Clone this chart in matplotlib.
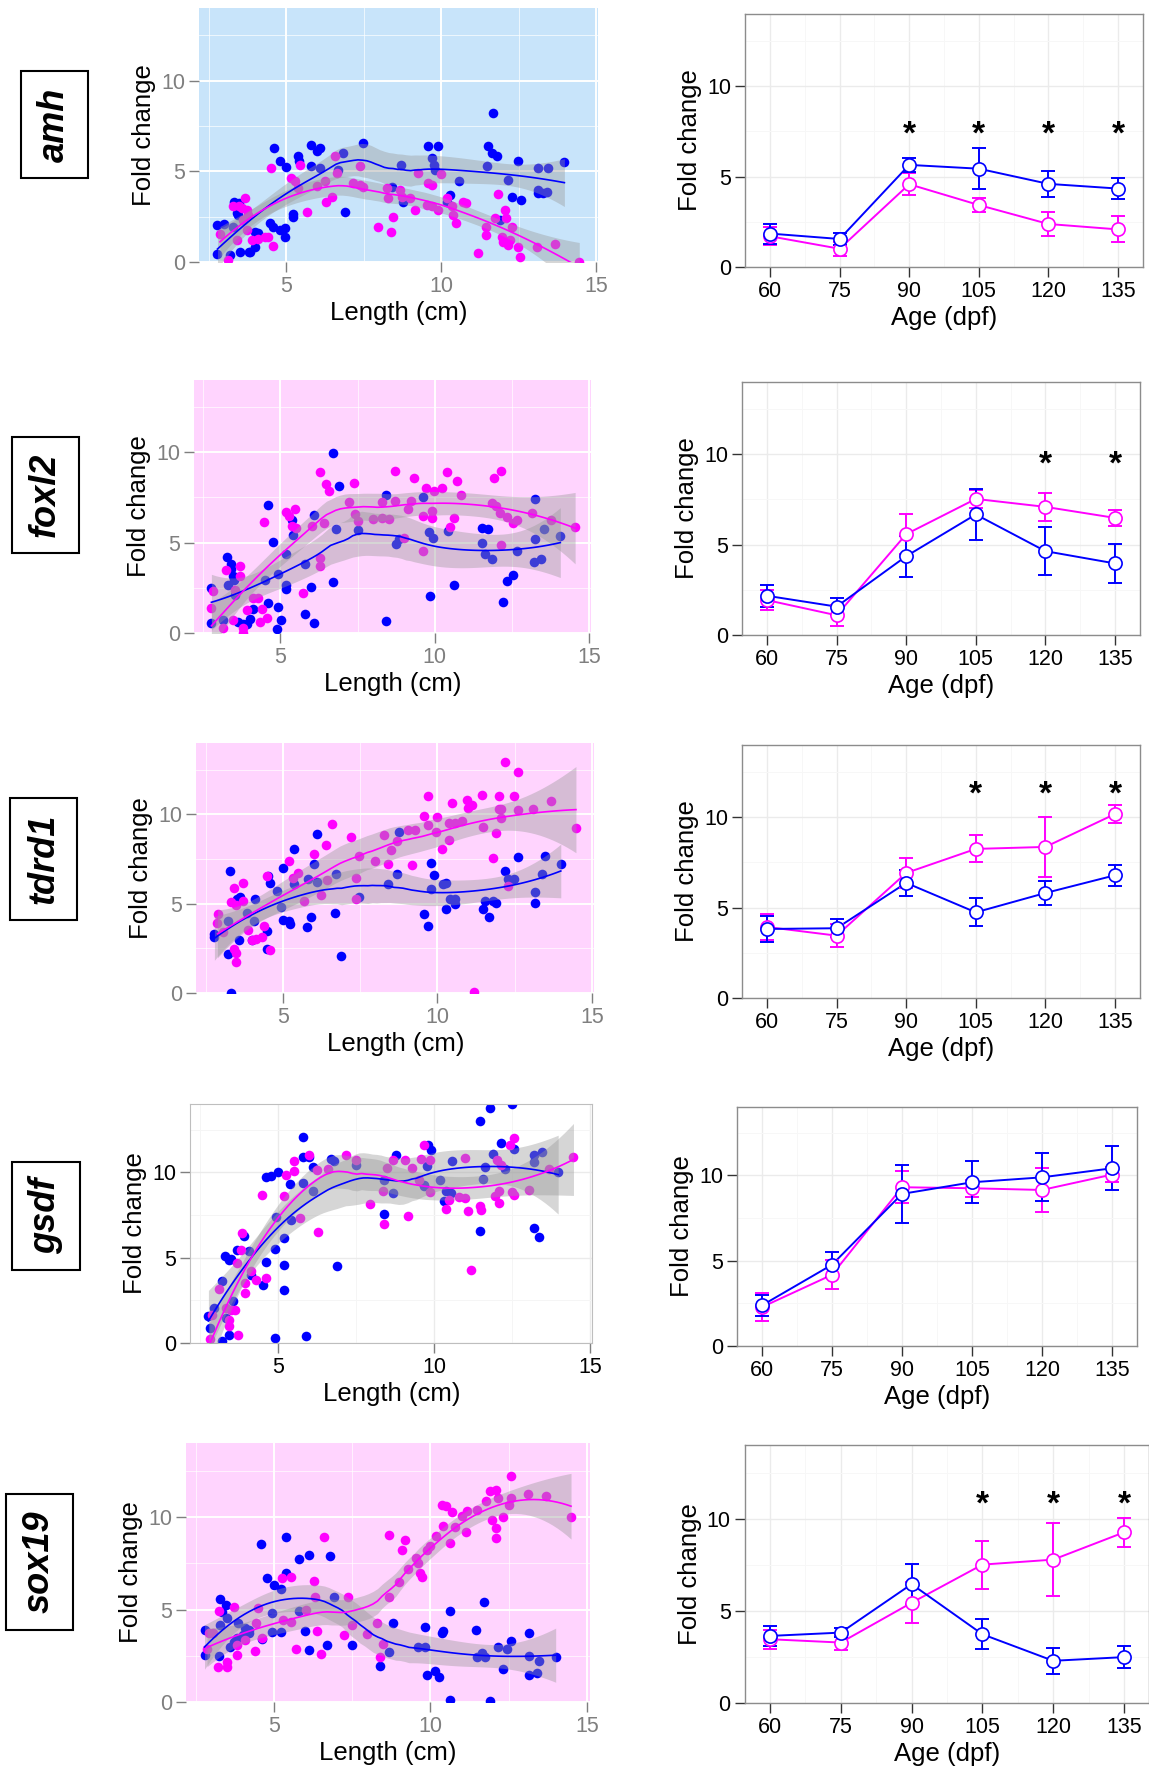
import numpy as np
import matplotlib
matplotlib.use('Agg')
import matplotlib.pyplot as plt
from matplotlib import transforms

plt.rcParams['font.family'] = ['Liberation Sans', 'DejaVu Sans']

BLUE = '#0000FF'
PINK = '#FF00FF'

# ---- scatter data: (length cm, fold change) ----
amh_blue = [(2.79, 2.03), (3.0, 2.10), (2.79, 0.44), (3.19, 0.39), (3.52, 0.57), (3.81, 0.57), (3.30, 1.95),
            (3.32, 3.28), (3.49, 3.24), (3.41, 2.69), (3.46, 2.6), (4.0, 1.68), (4.11, 1.58), (4.0, 0.85),
            (3.84, 0.57), (4.05, 1.4), (4.48, 2.17), (4.59, 1.95), (4.81, 1.77), (4.97, 1.4), (4.97, 1.86),
            (4.61, 6.28), (4.81, 5.54), (5.0, 5.21), (5.22, 2.5), (5.24, 2.65), (5.40, 5.86), (5.42, 5.54),
            (5.80, 6.46), (5.99, 6.10), (6.10, 6.28), (5.80, 5.27), (6.10, 5.17), (6.69, 5.08), (6.83, 6.0),
            (6.89, 2.78), (7.49, 6.56), (8.41, 4.13), (8.70, 5.36), (8.78, 3.28), (9.59, 6.41), (9.91, 6.41),
            (9.70, 5.73), (9.77, 5.36), (9.81, 5.08), (10.18, 3.33), (10.29, 3.70), (10.59, 4.44), (11.53, 6.41),
            (11.63, 6.0), (11.80, 5.82), (11.49, 5.27), (11.69, 8.21), (11.90, 2.32), (12.17, 4.53), (12.28, 3.61),
            (12.49, 5.54), (12.57, 3.43), (13.14, 5.17), (13.46, 5.17), (13.14, 3.98), (13.30, 3.79),
            (13.41, 3.85), (13.14, 3.79), (13.98, 5.51)]
amh_pink = [(2.87, 1.55), (3.14, 0.11), (3.30, 3.06), (3.49, 3.09), (3.68, 3.52), (3.57, 2.96), (3.73, 2.87),
            (3.79, 2.6), (3.62, 2.32), (3.73, 1.77), (3.41, 1.2), (3.89, 1.2), (4.11, 1.25), (4.33, 1.36),
            (4.43, 1.4), (4.59, 0.88), (4.51, 5.17), (5.16, 4.62), (5.29, 4.44), (5.40, 4.07), (5.45, 5.36),
            (5.69, 2.78), (5.99, 4.2), (6.26, 4.44), (6.29, 3.33), (6.47, 3.61), (6.58, 5.86), (6.63, 4.90),
            (7.17, 4.38), (7.39, 4.25), (7.49, 4.13), (7.39, 5.27), (7.98, 1.92), (8.38, 1.68), (8.46, 2.5),
            (8.27, 4.07), (8.30, 3.52), (8.68, 3.98), (8.73, 3.61), (9.0, 3.52), (9.16, 2.87), (9.27, 4.90),
            (9.59, 4.38), (9.70, 4.25), (9.54, 3.15), (9.70, 3.06), (9.91, 2.87), (10.0, 4.86), (10.18, 3.52),
            (10.34, 3.06), (10.38, 2.6), (10.48, 2.17), (10.72, 3.33), (10.81, 3.24), (11.18, 0.52),
            (11.45, 1.95), (11.45, 1.49), (11.74, 2.41), (11.85, 3.74), (12.06, 2.87), (12.10, 2.41),
            (11.96, 1.4), (12.01, 1.12), (12.23, 1.22), (12.17, 0.94), (12.28, 1.92), (12.49, 0.85),
            (12.55, 0.29), (13.09, 0.85), (13.68, 0.99), (14.46, 0.02)]

foxl2_blue = [(2.76, 2.48), (2.76, 0.54), (3.14, 0.72), (3.27, 4.2), (3.38, 3.83), (3.41, 3.54), (3.47, 3.13),
              (3.49, 2.94), (3.30, 2.67), (3.52, 2.11), (3.63, 0.63), (3.77, 0.5), (3.92, 0.5), (4.01, 0.76),
              (4.10, 1.31), (4.58, 7.06), (4.50, 2.94), (4.58, 1.65), (4.77, 5.02), (4.93, 3.28), (4.93, 1.46),
              (5.01, 0.72), (4.88, 0.22), (5.18, 4.39), (5.37, 6.28), (5.40, 5.44), (5.18, 2.67), (5.18, 2.43),
              (5.80, 3.83), (5.80, 1.04), (5.99, 2.57), (6.10, 6.52), (6.10, 0.57), (6.70, 9.98), (6.91, 8.13),
              (6.70, 2.80), (6.80, 5.76), (7.51, 5.72), (8.41, 7.65), (8.41, 0.69), (8.74, 4.93), (8.83, 5.2),
              (9.61, 7.54), (9.80, 5.57), (9.93, 5.26), (9.83, 2.07), (10.64, 2.63), (10.42, 5.63), (11.53, 5.81),
              (11.73, 5.76), (11.53, 4.98), (11.64, 4.37), (11.86, 4.09), (12.22, 1.74), (12.33, 2.89),
              (12.54, 3.22), (12.65, 4.52), (13.25, 7.43), (13.25, 5.2), (13.23, 3.93), (13.45, 4.09),
              (13.55, 5.76), (14.07, 5.39)]
foxl2_pink = [(2.82, 2.30), (2.76, 1.37), (3.14, 0.26), (3.23, 3.50), (3.52, 2.39), (3.68, 3.69), (3.68, 3.13),
              (3.47, 0.72), (3.77, 0.26), (3.79, 0.0), (3.90, 1.28), (4.12, 1.93), (4.28, 1.93), (4.39, 1.31),
              (4.34, 0.63), (4.55, 0.81), (4.48, 6.13), (5.18, 6.69), (5.29, 6.46), (5.48, 6.87), (5.37, 5.91),
              (5.51, 5.81), (5.73, 2.2), (6.29, 8.93), (6.46, 8.22), (6.57, 7.85), (6.29, 3.69), (6.27, 4.15),
              (6.02, 5.91), (6.40, 6.06), (7.22, 7.24), (7.38, 8.31), (7.43, 6.59), (7.51, 6.19), (8.01, 6.31),
              (8.30, 7.24), (8.30, 6.37), (8.52, 6.31), (8.72, 8.96), (8.71, 7.30), (9.12, 6.87), (9.23, 7.33),
              (9.34, 8.59), (9.01, 5.26), (9.61, 6.46), (9.90, 6.37), (9.72, 8.0), (9.99, 7.85), (10.23, 8.0),
              (9.91, 6.74), (9.61, 4.52), (10.40, 8.91), (10.64, 6.37), (10.51, 5.87), (10.73, 8.41),
              (10.84, 7.61), (11.84, 7.2), (12.0, 7.02), (12.11, 6.65), (11.92, 8.59), (12.14, 8.96),
              (12.14, 4.89), (12.33, 6.43), (12.54, 6.09), (12.65, 6.28), (13.14, 6.65), (13.77, 6.28),
              (14.55, 5.87)]

tdrd1_blue = [(2.78, 3.32), (2.78, 3.14), (3.21, 2.21), (3.30, 6.83), (3.31, 0.0), (3.21, 4.06), (3.52, 5.26),
              (3.62, 5.39), (3.58, 2.95), (3.83, 4.46), (4.01, 2.95), (4.11, 5.26), (4.07, 4.06), (4.48, 3.47),
              (4.51, 6.55), (4.59, 6.14), (4.48, 2.49), (4.79, 5.72), (5.0, 7.01), (4.94, 4.80), (5.0, 4.11),
              (5.19, 4.06), (5.22, 3.87), (5.37, 8.06), (5.37, 6.09), (5.80, 6.40), (5.78, 3.69), (5.90, 4.28),
              (5.99, 7.20), (6.09, 8.89), (6.09, 6.24), (6.69, 4.46), (6.73, 6.64), (6.89, 2.07), (7.47, 5.35),
              (8.40, 6.09), (8.70, 6.64), (8.77, 8.99), (9.57, 4.43), (9.69, 3.78), (9.79, 7.29), (9.88, 6.61),
              (9.79, 5.81), (10.19, 6.09), (10.28, 6.18), (10.28, 4.70), (10.41, 5.26), (10.58, 5.26),
              (10.58, 4.98), (11.48, 4.70), (11.54, 5.17), (11.67, 4.28), (11.79, 5.17), (11.89, 5.02),
              (12.19, 6.86), (12.28, 6.40), (12.47, 6.40), (12.59, 7.60), (13.17, 5.02), (13.17, 5.63),
              (13.37, 6.68), (13.49, 7.69), (13.99, 7.20)]
tdrd1_pink = [(2.90, 4.43), (2.88, 3.91), (3.06, 3.41), (3.33, 5.07), (3.40, 5.90), (3.42, 2.49), (3.49, 2.25),
              (3.49, 1.72), (3.49, 4.94), (3.70, 6.18), (3.70, 5.17), (3.86, 3.51), (4.01, 2.95), (4.14, 3.04),
              (4.32, 3.14), (4.38, 3.78), (4.48, 6.55), (4.59, 2.40), (5.19, 7.38), (5.31, 6.46), (5.47, 6.73),
              (5.68, 5.17), (5.99, 7.79), (6.23, 5.50), (6.38, 8.27), (6.42, 6.31), (6.58, 9.45), (7.20, 8.76),
              (7.37, 5.26), (7.37, 6.42), (7.47, 7.66), (7.99, 7.42), (8.27, 8.86), (8.40, 7.20), (8.48, 8.03),
              (8.70, 8.49), (9.05, 9.13), (9.26, 9.13), (9.17, 7.16), (9.57, 9.93), (9.69, 11.03), (9.69, 9.41),
              (9.94, 9.04), (9.98, 9.87), (10.16, 8.08), (10.37, 8.58), (10.37, 9.50), (10.58, 9.50),
              (10.47, 10.65), (10.78, 9.63), (10.95, 10.79), (10.99, 10.37), (11.11, 10.55), (11.17, 0.04),
              (11.44, 11.11), (11.48, 9.32), (11.79, 7.56), (11.89, 8.95), (11.98, 11.03), (11.98, 10.30),
              (12.04, 9.78), (12.06, 10.30), (12.19, 12.95), (12.47, 11.03), (12.59, 12.40), (12.59, 10.24),
              (12.28, 6.0), (13.09, 10.30), (13.67, 10.76), (14.48, 9.26)]

gsdf_blue = [(2.77, 1.60), (2.81, 0.88), (2.95, 2.05), (3.20, 3.65), (3.20, 0.1), (3.30, 5.08), (3.44, 4.88),
             (3.50, 4.92), (3.32, 1.46), (3.44, 0.49), (3.57, 2.44), (3.69, 5.47), (3.91, 6.25), (4.12, 4.0),
             (4.06, 5.37), (4.52, 3.42), (4.61, 9.73), (4.79, 9.77), (5.01, 10.0), (4.61, 4.73), (4.89, 5.51),
             (4.89, 0.29), (4.94, 7.38), (5.20, 6.15), (5.20, 4.59), (5.20, 3.13), (5.40, 9.34), (5.43, 7.23),
             (5.81, 12.07), (5.81, 10.90), (5.81, 9.38), (5.89, 0.43), (5.99, 10.90), (6.12, 10.31),
             (6.12, 8.89), (6.69, 10.78), (6.88, 4.53), (6.81, 10.64), (7.49, 10.45), (8.41, 9.57), (8.41, 7.58),
             (8.69, 8.79), (8.77, 11.04), (9.67, 9.28), (9.69, 9.18), (9.82, 11.62), (9.91, 11.33),
             (9.79, 10.39), (10.18, 9.57), (10.31, 8.30), (10.40, 8.89), (10.55, 8.79), (10.59, 10.64),
             (11.47, 13.03), (11.78, 13.77), (11.47, 6.54), (11.56, 9.61), (11.65, 10.31), (11.90, 11.09),
             (12.14, 11.72), (12.27, 10.20), (12.49, 13.98), (12.57, 11.37), (13.19, 11.04), (13.19, 10.59),
             (13.19, 6.74), (13.37, 6.21), (13.47, 11.17), (13.98, 10.0)]
gsdf_pink = [(2.81, 0.23), (2.89, 1.66), (3.11, 3.16), (3.32, 2.05), (3.44, 1.37), (3.42, 0.98), (3.50, 1.91),
             (3.63, 1.95), (3.71, 0.49), (3.69, 4.69), (3.81, 5.43), (3.84, 6.45), (3.93, 2.93), (3.93, 3.52),
             (4.12, 4.20), (4.28, 3.67), (4.49, 8.69), (4.61, 3.81), (5.20, 8.59), (5.26, 9.86), (5.50, 10.06),
             (5.50, 10.64), (5.71, 7.32), (5.99, 11.04), (6.29, 6.50), (6.26, 10.16), (6.61, 10.20),
             (7.18, 11.04), (7.49, 10.74), (7.95, 8.16), (8.38, 8.89), (8.41, 6.99), (8.49, 10.25), (8.69, 10.74),
             (9.08, 10.74), (9.18, 7.46), (9.30, 10.25), (9.51, 9.57), (9.57, 10.78), (9.69, 11.62), (9.88, 10.74),
             (9.88, 8.83), (10.37, 7.85), (10.49, 8.40), (10.80, 8.55), (10.98, 10.84), (10.98, 8.50),
             (11.10, 7.71), (11.19, 4.26), (11.47, 8.05), (11.51, 7.77), (11.96, 8.59), (12.08, 8.89),
             (12.08, 8.20), (12.02, 10.74), (12.14, 10.45), (12.45, 11.62), (12.57, 12.01), (12.49, 8.83),
             (12.57, 8.69), (13.06, 8.98), (13.68, 10.20), (14.47, 10.90)]

sox19_blue = [(2.78, 3.89), (2.78, 2.53), (3.23, 2.48), (3.29, 5.55), (3.47, 5.24), (3.29, 4.16), (3.35, 4.88),
              (3.50, 4.52), (3.59, 2.98), (3.71, 3.25), (3.83, 3.44), (4.02, 3.62), (4.20, 3.71), (3.86, 4.29),
              (4.08, 3.98), (4.20, 3.89), (4.60, 8.55), (4.62, 3.38), (4.78, 6.69), (4.99, 6.33), (5.21, 6.09),
              (4.93, 4.79), (4.93, 3.80), (5.21, 3.80), (5.39, 8.92), (5.39, 7.0), (5.80, 7.72), (6.12, 7.96),
              (5.80, 4.94), (6.0, 3.83), (6.12, 2.80), (6.69, 3.07), (6.78, 7.90), (6.91, 5.66), (7.48, 3.07),
              (8.39, 1.93), (8.69, 2.71), (8.79, 4.25), (9.60, 2.95), (9.81, 4.03), (9.84, 2.95), (9.90, 1.45),
              (10.15, 1.68), (10.27, 1.36), (10.36, 3.74), (10.41, 3.85), (10.61, 4.94), (10.61, 0.13),
              (11.46, 3.89), (11.48, 2.44), (11.63, 2.66), (11.75, 2.44), (11.70, 5.42), (11.91, 0.04),
              (12.15, 2.95), (12.31, 1.81), (12.45, 2.84), (12.57, 3.29), (13.16, 3.71), (13.16, 2.48),
              (13.16, 1.48), (13.40, 1.59), (13.48, 2.21), (14.0, 2.44)]
sox19_pink = [(2.86, 2.89), (2.92, 3.74), (3.04, 3.71), (3.20, 1.90), (3.25, 4.94), (3.50, 1.90), (3.50, 2.17),
              (3.71, 5.12), (3.81, 2.53), (3.83, 3.07), (4.08, 3.35), (4.38, 2.77), (4.42, 4.25), (4.50, 5.06),
              (4.62, 3.44), (5.27, 6.69), (5.53, 6.78), (5.29, 4.43), (5.53, 4.34), (5.69, 2.84), (6.02, 4.97),
              (6.29, 6.56), (6.32, 5.70), (6.38, 3.85), (6.50, 2.62), (6.60, 8.92), (7.38, 5.70), (7.23, 3.62),
              (7.48, 4.16), (7.96, 3.67), (8.30, 4.25), (8.39, 2.44), (8.48, 3.13), (8.69, 5.66), (8.69, 9.04),
              (8.99, 6.51), (9.08, 8.23), (9.20, 8.77), (9.27, 7.18), (9.54, 7.78), (9.60, 7.54), (9.68, 6.96),
              (9.72, 6.78), (9.88, 8.23), (10.0, 8.44), (10.17, 8.95), (10.36, 10.67), (10.51, 10.58),
              (10.39, 9.53), (10.61, 8.59), (10.69, 10.25), (10.78, 9.46), (11.0, 10.07), (11.18, 10.31),
              (11.12, 9.17), (11.48, 10.40), (11.78, 10.85), (11.91, 11.39), (12.09, 11.48), (11.97, 9.86),
              (12.09, 9.40), (12.09, 8.86), (12.15, 11.03), (12.31, 10.0), (12.51, 10.67), (12.57, 11.03),
              (12.57, 12.21), (13.10, 11.27), (13.69, 11.12), (14.49, 10.0)]

# ---- time course data: mean and error bar half-width ----
age = [60, 75, 90, 105, 120, 135]
amh_blue_mean = [1.85, 1.55, 5.65, 5.44, 4.60, 4.34]
amh_blue_err = [0.55, 0.35, 0.37, 1.14, 0.72, 0.59]
amh_pink_mean = [1.70, 1.01, 4.58, 3.43, 2.38, 2.08]
amh_pink_err = [0.50, 0.40, 0.60, 0.40, 0.65, 0.72]
foxl2_blue_mean = [2.17, 1.57, 4.36, 6.67, 4.64, 3.96]
foxl2_blue_err = [0.60, 0.45, 1.14, 1.40, 1.33, 1.10]
foxl2_pink_mean = [1.93, 1.09, 5.58, 7.53, 7.09, 6.48]
foxl2_pink_err = [0.55, 0.57, 1.10, 0.50, 0.76, 0.45]
tdrd1_blue_mean = [3.82, 3.86, 6.37, 4.74, 5.81, 6.79]
tdrd1_blue_err = [0.70, 0.50, 0.70, 0.78, 0.69, 0.58]
tdrd1_pink_mean = [3.93, 3.45, 6.92, 8.25, 8.36, 10.18]
tdrd1_pink_err = [0.72, 0.65, 0.83, 0.75, 1.65, 0.52]
gsdf_blue_mean = [2.38, 4.76, 8.91, 9.59, 9.88, 10.41]
gsdf_blue_err = [0.60, 0.74, 1.70, 1.22, 1.40, 1.30]
gsdf_pink_mean = [2.28, 4.17, 9.30, 9.24, 9.14, 10.04]
gsdf_pink_err = [0.84, 0.86, 0.95, 0.50, 1.30, 0.46]
sox19_blue_mean = [3.64, 3.82, 6.45, 3.73, 2.29, 2.49]
sox19_blue_err = [0.55, 0.25, 1.10, 0.81, 0.70, 0.60]
sox19_pink_mean = [3.46, 3.28, 5.44, 7.51, 7.78, 9.26]
sox19_pink_err = [0.52, 0.43, 1.10, 1.30, 2.00, 0.80]

# significance stars: ages and height
amh_stars, amh_star_y = [90, 105, 120, 135], 7.9
foxl2_stars, foxl2_star_y = [120, 135], 10.0
tdrd1_stars, tdrd1_star_y = [105, 120, 135], 11.85
gsdf_stars, gsdf_star_y = [], 0
sox19_stars, sox19_star_y = [105, 120, 135], 11.35

genes = ['amh', 'foxl2', 'tdrd1', 'gsdf', 'sox19']
panel_bg = {'amh': '#C8E4FA', 'foxl2': '#FFD4FE', 'tdrd1': '#FFD4FE', 'gsdf': 'white', 'sox19': '#FFD4FE'}

# layout in pixels: left panel (x at len 5, x at len 15, top, y0), right panel (x at 60, x at 135, top, y0), label box centre
W, H = 1149, 1772
left_px = {'amh': (286, 596, 8, 262), 'foxl2': (280.5, 589, 380, 633), 'tdrd1': (283, 592, 743, 993),
           'gsdf': (278, 590, 1104, 1343), 'sox19': (274, 587, 1443, 1702)}
right_px = {'amh': (770, 1118, 14, 267), 'foxl2': (767, 1115, 382, 635), 'tdrd1': (767, 1115, 745, 998),
            'gsdf': (762, 1112, 1107, 1346), 'sox19': (770, 1124, 1445, 1703)}
box_px = {'amh': (54.5, 124.5), 'foxl2': (45.5, 495), 'tdrd1': (43.5, 859), 'gsdf': (46, 1216), 'sox19': (39.5, 1562)}

XL = (2.19, 15.08)
XR = (54.6, 140.4)
YL = (0, 14)


def loess(x, y, span=0.75, npts=80):
    x = np.asarray(x, float)
    y = np.asarray(y, float)
    n = len(x)
    q = int(np.floor(n * span))

    def lvec(x0):
        d = np.abs(x - x0)
        h = np.sort(d)[q - 1]
        w = (1 - np.clip(d / h, 0, 1) ** 3) ** 3
        X = np.vstack([np.ones(n), x - x0, (x - x0) ** 2]).T
        XtW = X.T * w
        return np.linalg.solve(XtW @ X, XtW)[0]

    L = np.array([lvec(v) for v in x])
    res = y - L @ y
    M = (np.eye(n) - L).T @ (np.eye(n) - L)
    d1 = np.trace(M)
    sigma = np.sqrt(res @ res / d1)
    grid = np.linspace(x.min(), x.max(), npts)
    Lg = np.array([lvec(g) for g in grid])
    fit = Lg @ y
    se = sigma * np.sqrt((Lg ** 2).sum(axis=1))
    return grid, fit, fit - 1.98 * se, fit + 1.98 * se


def make_axes(fig, p0, p1, v0, v1, xlim, top, y0):
    # p0, p1: pixel x of data values v0, v1
    scale = (p1 - p0) / (v1 - v0)
    left = p0 - (v0 - xlim[0]) * scale
    right = p1 + (xlim[1] - v1) * scale
    return fig.add_axes([left / W, 1 - y0 / H, (right - left) / W, (y0 - top) / H]), right - left


fig = plt.figure(figsize=(W / 100, H / 100), dpi=100)
data = globals()

for g in genes:
    # ---- left: scatter vs length ----
    p5, p15, top, y0 = left_px[g]
    ax, wpx = make_axes(fig, p5, p15, 5, 15, XL, top, y0)
    bg = panel_bg[g]
    ax.set_facecolor(bg)
    ax.set_xlim(*XL)
    ax.set_ylim(*YL)
    ax.set_xticks([5, 10, 15])
    ax.set_yticks([0, 5, 10])
    ax.set_xticks([2.5, 7.5, 12.5], minor=True)
    ax.set_yticks([2.5, 7.5, 12.5], minor=True)
    if bg == 'white':
        ax.grid(which='major', color='#EBEBEB', lw=1.0)
        ax.grid(which='minor', color='#F5F5F5', lw=0.7)
        for s in ax.spines.values():
            s.set_color('#BEBEBE')
        tcol = 'black'
    else:
        ax.grid(which='major', color='white', lw=1.4)
        ax.grid(which='minor', color='white', lw=0.6, alpha=0.8)
        for s in ax.spines.values():
            s.set_visible(False)
        tcol = '#7F7F7F'
    ax.set_axisbelow(True)
    ax.tick_params(which='major', length=7, width=1.0, color='#7F7F7F', labelcolor=tcol,
                   labelsize=15.5, pad=3)
    ax.tick_params(which='minor', length=0)
    for col, series in ((BLUE, data[g + '_blue']), (PINK, data[g + '_pink'])):
        pts = np.array(series)
        ax.scatter(pts[:, 0], pts[:, 1], s=48, color=col, lw=0, zorder=2, clip_on=True)
    for col, series in ((BLUE, data[g + '_blue']), (PINK, data[g + '_pink'])):
        pts = np.array(series)
        gx, fit, lo, hi = loess(pts[:, 0], pts[:, 1])
        ax.fill_between(gx, lo, hi, color='#999999', alpha=0.4, lw=0, zorder=3)
        ax.plot(gx, fit, color=col, lw=1.2, zorder=4)
    ax.set_xlabel('Length (cm)', fontsize=18.5, va='center')
    ax.xaxis.set_label_coords(0.5, -51 / (y0 - top))
    ax.set_ylabel('Fold change', fontsize=18.5, va='center')
    ax.yaxis.set_label_coords(-55 / wpx, 0.5)

    # ---- right: time course ----
    p60, p135, top, y0 = right_px[g]
    ax2, wpx2 = make_axes(fig, p60, p135, 60, 135, XR, top, y0)
    ax2.set_xlim(*XR)
    ax2.set_ylim(*YL)
    ax2.set_xticks(age)
    ax2.set_yticks([0, 5, 10])
    ax2.set_xticks([67.5, 82.5, 97.5, 112.5, 127.5], minor=True)
    ax2.set_yticks([2.5, 7.5, 12.5], minor=True)
    ax2.grid(which='major', color='#EBEBEB', lw=1.0)
    ax2.grid(which='minor', color='#F7F7F7', lw=0.7)
    ax2.set_axisbelow(True)
    for s in ax2.spines.values():
        s.set_color('#8C8C8C')
        s.set_linewidth(1.0)
    ax2.tick_params(which='major', length=7, width=1.0, color='#333333', labelcolor='black',
                    labelsize=15.5, pad=3)
    ax2.tick_params(which='minor', length=0)
    series = [(PINK, data[g + '_pink_mean'], data[g + '_pink_err']),
              (BLUE, data[g + '_blue_mean'], data[g + '_blue_err'])]
    for col, m, e in series:
        ax2.plot(age, m, color=col, lw=1.4, zorder=3)
    for col, m, e in series:
        ax2.errorbar(age, m, yerr=e, fmt='none', ecolor=col, elinewidth=1.4, capsize=4.8,
                     capthick=1.4, zorder=4)
    for col, m, e in series:
        ax2.plot(age, m, 'o', ms=9.5, mfc='white', mec=col, mew=1.2, zorder=5, ls='none')
    star_tr = transforms.offset_copy(ax2.transData, fig=fig, y=-0.58 * 24, units='points')
    for a in data[g + '_stars']:
        ax2.text(a, data[g + '_star_y'], '*', fontsize=24, fontweight='bold', ha='center',
                 va='baseline', transform=star_tr)
    ax2.set_xlabel('Age (dpf)', fontsize=18.5, va='center')
    ax2.xaxis.set_label_coords(0.5, -51 / (y0 - top))
    ax2.set_ylabel('Fold change', fontsize=18.5, va='center')
    ax2.yaxis.set_label_coords(-55 / wpx2, 0.5)

    # ---- gene name box ----
    bx, by = box_px[g]
    fig.text(bx / W, 1 - by / H, g, rotation=90, fontsize=26, fontweight='bold', fontstyle='italic',
             ha='center', va='center',
             bbox=dict(boxstyle='square,pad=0.45', fc='white', ec='black', lw=1.5))

fig.savefig('out.png', dpi=100)
